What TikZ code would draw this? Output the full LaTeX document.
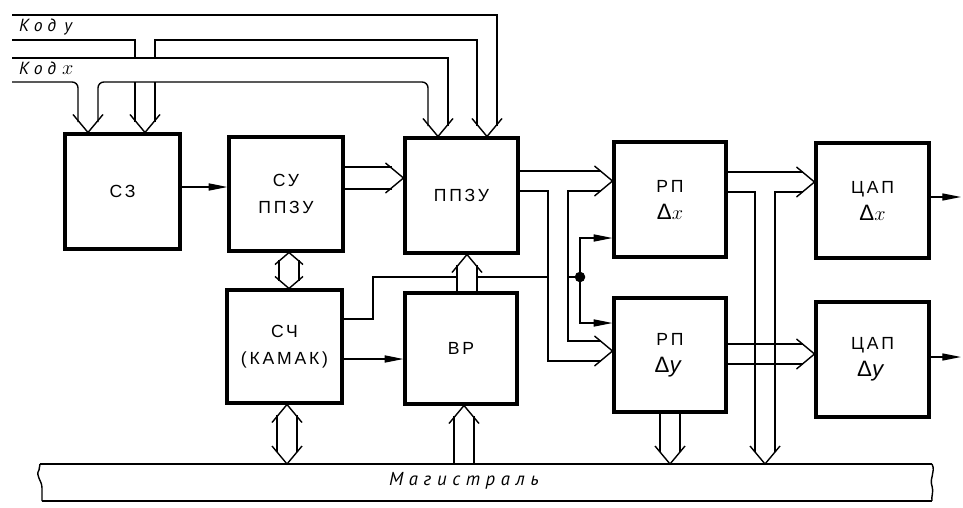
\documentclass[tikz,border=0pt]{standalone}
\usepackage{fontspec}
\setmainfont{Liberation Sans}[LetterSpace=16]
\newfontfamily\kodfont{PT Sans}[LetterSpace=28]
\newfontfamily\magfont{PT Sans}[LetterSpace=30]
\usetikzlibrary{arrows.meta,calc}

\newcommand\blkat[6]{\node[blk,minimum width={(#4-#2)*0.03cm},minimum height={(#5-#3)*0.03cm}] (#1) at ({(#2+#4)/2},{(#3+#5)/2}) {#6};}
\newcommand\tipD[1]{\draw[ln] ($(#1)+(-15,-18)$) -- (#1) -- ($(#1)+(15,-18)$);}
\newcommand\tipU[1]{\draw[ln] ($(#1)+(-15,18)$) -- (#1) -- ($(#1)+(15,18)$);}
\newcommand\tipR[1]{\draw[ln] ($(#1)+(-18,-15)$) -- (#1) -- ($(#1)+(-18,15)$);}
\newcommand\stipD[1]{\draw[ln] ($(#1)+(-14,-12)$) -- (#1) -- ($(#1)+(14,-12)$);}
\newcommand\stipU[1]{\draw[ln] ($(#1)+(-14,12)$) -- (#1) -- ($(#1)+(14,12)$);}
\newcommand\dl[1]{{\fontsize{19}{23}\selectfont Δ#1}}

\begin{document}
\begin{tikzpicture}[x=0.03cm,y=-0.03cm,
  blk/.style={draw,line width=2.6pt,inner sep=0pt,align=center,font=\fontsize{15}{23}\selectfont},
  ln/.style={line width=1.2pt},
  sarr/.style={ln,-{Triangle[length=16pt,width=6pt]}},
  lbl/.style={font=\kodfont\itshape\fontsize{15}{17}\selectfont,inner sep=0pt},
  maglbl/.style={font=\magfont\itshape\fontsize{16}{18}\selectfont,inner sep=0pt}]
\useasboundingbox (0,0) rectangle (963,507);

% blocks
\blkat{c3}{65}{134}{180}{249}{СЗ}
\blkat{sy}{229}{137}{343}{251}{СУ\\ППЗУ}
\blkat{ppzu}{405}{138}{518}{253}{ППЗУ}
\blkat{rpx}{614}{142}{726}{257}{РП\\\dl{$x$}}
\blkat{dacx}{816}{143}{929}{258}{ЦАП\\\dl{$x$}}
\blkat{sch}{227}{290}{342}{403}{СЧ\\(КАМАК)}
\blkat{vr}{405}{293}{517}{404}{ВР}
\blkat{rpy}{614}{298}{726}{412}{РП\\\dl{\textit{y}}}
\blkat{dacy}{816}{302}{929}{417}{ЦАП\\\dl{\textit{y}}}

% bus (Магистраль)
\node[inner sep=0pt,minimum width={892*0.03cm},minimum height={37*0.03cm}] (mag) at (486,482.5) {};
\node[maglbl] (magtxt) at (464,481) {Магистраль};
\draw[ln] (40,464) -- (932,464);
\draw[ln] (42,501) -- (932,501);
\draw[ln] (40,464) -- (39,470) .. controls (35,476) and (42,480) .. (42,488) -- (42,501);
\draw[ln] (932,464) .. controls (936,472) and (929,478) .. (932,486) .. controls (934,492) and (931,496) .. (932,501);

% input labels
\node[lbl,anchor=west] (kody) at (19,27) {Код\hspace{7pt}\textit{y}};
\node[lbl,anchor=west] (kodx) at (19,68) {Код\hspace{5pt}{\fontsize{18}{18}\selectfont$x$}};

% tips
\coordinate (tc3x) at ($(c3.north)+(-34.5,0)$);
\coordinate (tc3y) at ($(c3.north)+(22.5,0)$);
\coordinate (tpx) at ($(ppzu.north)+(-23.5,0)$);
\coordinate (tpy) at ($(ppzu.north)+(25.5,0)$);
\coordinate (tsy) at ($(ppzu.west)+(0,-17.5)$);
\coordinate (trpx) at ($(rpx.west)+(0,-18.5)$);
\coordinate (trpy) at ($(rpy.west)+(0,-4)$);
\coordinate (tvr) at ($(ppzu.south)+(5.5,0)$);
\coordinate (tsyd) at ($(sy.south)+(3,0)$);
\coordinate (tschu) at ($(sch.north)+(4.5,0)$);
\coordinate (tschd) at ($(sch.south)+(2.5,0)$);
\coordinate (tmag1) at (287,464);
\coordinate (tvrb) at ($(vr.south)+(3,0)$);
\coordinate (tmag2) at (670,464);
\coordinate (tmag3) at (765,464);
\coordinate (tdacx) at ($(dacx.west)+(0,-18.5)$);
\coordinate (tdacy) at ($(dacy.west)+(0,-5.5)$);
\coordinate (dot) at (580,277);

% Код y / Код x input buses
\draw[ln] (12,15) -- (497,15) -- (497,126);
\draw[ln] (12,40) -- (135,40) -- (135,58);
\draw[ln] (155,58) -- (155,40) -- (477,40) -- (477,126);
\draw[ln] (12,58) -- (448,58) -- (448,126);
\draw[ln,rounded corners=5] (12,82) -- (78,82) -- (78,122);
\draw[ln,rounded corners=5] (98,122) -- (98,82) -- (428,82) -- (428,126);
\draw[ln] (135,82) -- (135,122);
\draw[ln] (155,82) -- (155,122);
\tipD{tc3x} \tipD{tc3y} \tipD{tpx} \tipD{tpy}

% single arrows
\draw[sarr] ($(c3.east)+(0,-4.5)$) -- ($(sy.west)+(0,-7)$);
\draw[sarr] ($(sch.east)+(0,12.5)$) -- ($(vr.west)+(0,10.5)$);
\draw[sarr] ($(dacx.east)+(0,-3.5)$) -- (961,197);
\draw[sarr] ($(dacy.east)+(0,-2.5)$) -- (961,357);

% control line from СЧ
\draw[ln] ($(sch.east)+(0,-27.5)$) -- (373,319) -- (373,277) -- (457,277);
\draw[ln] (477,277) -- (548,277);
\draw[ln] (568,277) -- (dot);
\draw[sarr] (dot) -- (580,238) -- ($(rpx.west)+(0,38.5)$);
\draw[sarr] (dot) -- (580,323) -- ($(rpy.west)+(0,-32)$);
\fill (dot) circle[radius=4.5pt];

% СУ ППЗУ -> ППЗУ
\draw[ln] ($(sy.east)+(0,-27)$) -- (392,167);
\draw[ln] ($(sy.east)+(0,-5)$) -- (392,189);
\tipR{tsy}

% ППЗУ -> РП
\draw[ln] ($(ppzu.east)+(0,-24.5)$) -- (601,171);
\draw[ln] ($(ppzu.east)+(0,-4.5)$) -- (548,191) -- (548,361) -- (601,361);
\draw[ln] (601,191) -- (568,191) -- (568,341) -- (601,341);
\tipR{trpx} \tipR{trpy}

% ВР -> ППЗУ
\draw[ln] ($(vr.north)+(-4,0)$) -- (457,265);
\draw[ln] ($(vr.north)+(16,0)$) -- (477,265);
\tipU{tvr}

% СУ <-> СЧ
\draw[ln] (279,260) -- (279,281);
\draw[ln] (299,260) -- (299,281);
\stipU{tsyd} \stipD{tschu}

% СЧ <-> Магистраль
\draw[ln] (277,415) -- (277,452);
\draw[ln] (297,415) -- (297,452);
\tipU{tschd} \tipD{tmag1}

% Магистраль -> ВР
\draw[ln] (454,464) -- (454,416);
\draw[ln] (474,464) -- (474,416);
\tipU{tvrb}

% РП Δy -> Магистраль
\draw[ln] (660,412) -- (660,452);
\draw[ln] (680,412) -- (680,452);
\tipD{tmag2}

% РП Δx -> ЦАП Δx and Магистраль
\draw[ln] ($(rpx.east)+(0,-27.5)$) -- (803,172);
\draw[ln] ($(rpx.east)+(0,-7.5)$) -- (755,192) -- (755,452);
\draw[ln] (803,192) -- (775,192) -- (775,452);
\tipR{tdacx} \tipD{tmag3}

% РП Δy -> ЦАП Δy
\draw[ln] ($(rpy.east)+(0,-11)$) -- (803,344);
\draw[ln] ($(rpy.east)+(0,9)$) -- (803,364);
\tipR{tdacy}
\end{tikzpicture}
\end{document}
